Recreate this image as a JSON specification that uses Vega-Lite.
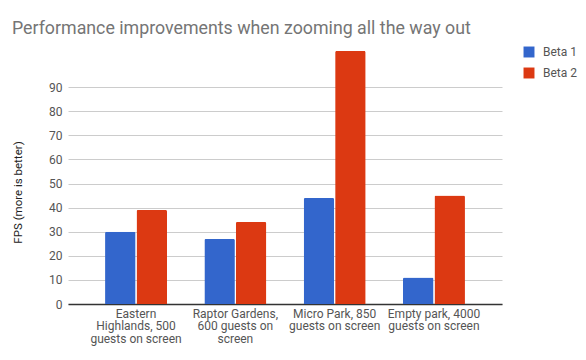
{
  "$schema": "https://vega.github.io/schema/vega-lite/v6.json",
  "autosize": {"type": "none"},
  "width": 434,
  "height": 253,
  "padding": {"left": 68, "top": 51, "right": 84, "bottom": 56},
  "background": "white",
  "config": {
    "font": "Roboto",
    "view": {"stroke": null}
  },
  "title": {
    "text": "Performance improvements when zooming all the way out",
    "anchor": "start",
    "frame": "group",
    "dx": -56,
    "dy": 28,
    "offset": 22,
    "baseline": "alphabetic",
    "font": "Roboto",
    "fontSize": 17.8,
    "fontWeight": "normal",
    "color": "#757575"
  },
  "data": {
    "values": [
      {"park": "Eastern Highlands, 500 guests on screen", "series": "Beta 1", "fps": 30},
      {"park": "Eastern Highlands, 500 guests on screen", "series": "Beta 2", "fps": 39},
      {"park": "Raptor Gardens, 600 guests on screen", "series": "Beta 1", "fps": 27},
      {"park": "Raptor Gardens, 600 guests on screen", "series": "Beta 2", "fps": 34},
      {"park": "Micro Park, 850 guests on screen", "series": "Beta 1", "fps": 44},
      {"park": "Micro Park, 850 guests on screen", "series": "Beta 2", "fps": 105},
      {"park": "Empty park, 4000 guests on screen", "series": "Beta 1", "fps": 11},
      {"park": "Empty park, 4000 guests on screen", "series": "Beta 2", "fps": 45}
    ]
  },
  "mark": {"type": "bar", "cornerRadiusTopLeft": 1.5, "cornerRadiusTopRight": 1.5},
  "encoding": {
    "x": {
      "field": "park",
      "type": "nominal",
      "sort": null,
      "title": null,
      "scale": {"paddingInner": 0.376, "paddingOuter": 0.373},
      "axis": {
        "labelAngle": 0,
        "labelFont": "Roboto",
        "labelFontSize": 12,
        "labelColor": "#555555",
        "labelLineHeight": 12.5,
        "labelPadding": 4,
        "labelLimit": 200,
        "ticks": false,
        "domainColor": "#333333",
        "domainWidth": 1.5,
        "labelExpr": "datum.value == 'Eastern Highlands, 500 guests on screen' ? ['Eastern', 'Highlands, 500', 'guests on screen'] : datum.value == 'Raptor Gardens, 600 guests on screen' ? ['Raptor Gardens,', '600 guests on', 'screen'] : datum.value == 'Micro Park, 850 guests on screen' ? ['Micro Park, 850', 'guests on screen'] : ['Empty park, 4000', 'guests on screen']"
      }
    },
    "xOffset": {
      "field": "series",
      "type": "nominal",
      "scale": {"paddingInner": 0.03}
    },
    "y": {
      "field": "fps",
      "type": "quantitative",
      "scale": {"domain": [0, 105], "nice": false},
      "title": "FPS (more is better)",
      "axis": {
        "values": [0, 10, 20, 30, 40, 50, 60, 70, 80, 90],
        "domain": false,
        "ticks": false,
        "gridColor": "#cccccc",
        "labelFont": "Roboto",
        "labelFontSize": 12,
        "labelColor": "#555555",
        "labelPadding": 6,
        "titleFont": "Roboto",
        "titleFontSize": 11.5,
        "titleFontWeight": "normal",
        "titleColor": "#222222",
        "titleX": -50,
        "titleY": 141,
        "titleAlign": "center",
        "titleBaseline": "middle",
        "titleAngle": -90
      }
    },
    "color": {
      "field": "series",
      "type": "nominal",
      "scale": {"domain": ["Beta 1", "Beta 2"], "range": ["#3366cc", "#dc3912"]},
      "legend": {
        "title": null,
        "orient": "none",
        "legendX": 455,
        "legendY": -5,
        "symbolType": "square",
        "symbolSize": 120,
        "symbolStrokeWidth": 0,
        "symbolOpacity": 1,
        "labelFont": "Roboto",
        "labelFontSize": 12,
        "labelColor": "#555555",
        "labelOffset": 8,
        "rowPadding": 9
      }
    }
  }
}
